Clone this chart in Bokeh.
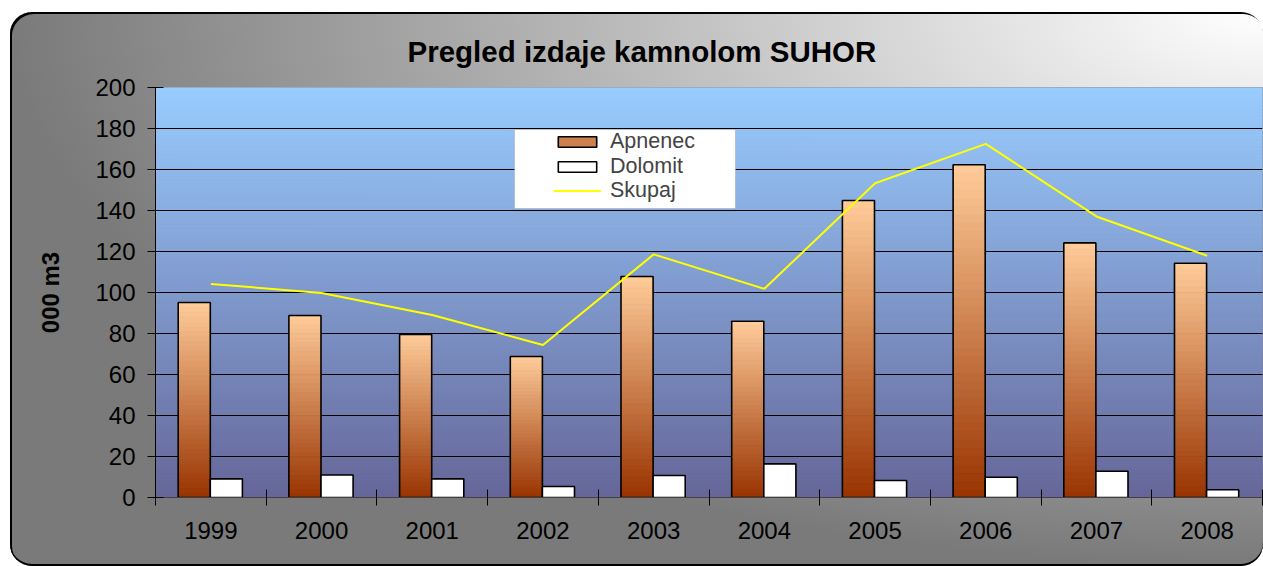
import numpy as np
from bokeh.plotting import figure
from bokeh.models import FixedTicker, Legend, LegendItem, BoxAnnotation, Range1d
from bokeh.embed import file_html
from bokeh.resources import INLINE

# ---- data (000 m3) ----
years = ["1999", "2000", "2001", "2002", "2003", "2004", "2005", "2006", "2007", "2008"]
apnenec = [95.1, 88.8, 79.5, 68.8, 107.8, 86.0, 144.9, 162.3, 124.2, 114.3]
dolomit = [9.1, 11.0, 9.1, 5.4, 10.7, 16.4, 8.3, 9.9, 12.8, 3.8]
skupaj = [104.2, 99.8, 89.0, 74.4, 118.6, 101.8, 153.3, 172.5, 137.1, 117.9]
y_ticks = [0, 20, 40, 60, 80, 100, 120, 140, 160, 180, 200]

FONT = "Liberation Sans"
n = len(years)
centers = np.arange(n) + 0.5


def lerp_hex(c0, c1, t):
    c0 = np.array([int(c0[i:i + 2], 16) for i in (1, 3, 5)], dtype=float)
    c1 = np.array([int(c1[i:i + 2], 16) for i in (1, 3, 5)], dtype=float)
    c = c0 + (c1 - c0) * t
    return "#%02x%02x%02x" % tuple(int(round(v)) for v in c)


p = figure(width=1253, height=554, output_backend="svg", toolbar_location=None,
           x_range=Range1d(0, n), y_range=Range1d(0, 200),
           min_border_left=145, min_border_right=1, min_border_top=75, min_border_bottom=69)
p.margin = (12, 0, 0, 10)
p.border_fill_color = None
p.background_fill_color = None
p.outline_line_color = "#808080"
p.outline_line_width = 1
p.styles = {
    "background": "radial-gradient(1253px 554px at 100% 0%, #ffffff 0%, #7a7a7a 100%)",
    "border-radius": "22px 22px 22px 22px",
    "box-shadow": "inset 2px 2px 0 0 #000000, inset 0 -2px 0 0 #000000",
}

# plot-area gradient background
nb = 120
edges = np.linspace(0, 200, nb + 1)
bg_cols = [lerp_hex("#666699", "#99ccff", (edges[i] + edges[i + 1]) / 400) for i in range(nb)]
p.quad(left=0, right=n, bottom=edges[:-1], top=edges[1:], fill_color=bg_cols,
       line_color=bg_cols, line_width=1, level="image")

# Apnenec bars with vertical gradient (middle slice first so it can serve the legend)
ns = 40
k_order = [ns // 2] + [k for k in range(ns) if k != ns // 2]
bx, bb, bt, bc = [], [], [], []
for k in k_order:
    for i, v in enumerate(apnenec):
        bx.append(centers[i] - 0.15)
        bb.append(v * k / ns)
        bt.append(v * (k + 1) / ns)
        bc.append(lerp_hex("#993300", "#ffcc99", (k + 0.5) / ns))
apn_fill = p.vbar(x=bx, bottom=bb, top=bt, width=0.29, fill_color=bc, line_color=bc, line_width=0.6)
apn_line = p.vbar(x=centers - 0.15, top=apnenec, width=0.29, fill_color=None,
                  line_color="black", line_width=1.6)

dol = p.vbar(x=centers + 0.14, top=dolomit, width=0.29, fill_color="white",
             line_color="black", line_width=1.6)
sk = p.line(x=centers, y=skupaj, line_color="#ffff00", line_width=2)

# axes
p.xaxis.ticker = FixedTicker(ticks=list(centers), minor_ticks=list(range(n + 1)))
p.xaxis.major_label_overrides = {float(c): y for c, y in zip(centers, years)}
p.xaxis.major_tick_in = 0
p.xaxis.major_tick_out = 0
p.xaxis.minor_tick_in = 8
p.xaxis.minor_tick_out = 8
p.xaxis.minor_tick_line_color = "black"
p.xaxis.axis_line_color = "#404040"
p.xaxis.major_label_standoff = 16

p.yaxis.ticker = FixedTicker(ticks=y_ticks)
p.yaxis.major_tick_in = 8
p.yaxis.major_tick_out = 8
p.yaxis.major_tick_line_color = "black"
p.yaxis.axis_line_color = "black"
p.yaxis.major_label_standoff = 12
p.yaxis.axis_label = "000 m3"
p.yaxis.axis_label_text_font_style = "bold"
p.yaxis.axis_label_standoff = 28

for ax in (p.xaxis, p.yaxis):
    ax.major_label_text_font = FONT
    ax.major_label_text_font_size = "24px"
    ax.major_label_text_color = "black"
    ax.axis_label_text_font = FONT
    ax.axis_label_text_font_size = "24px"
    ax.axis_label_text_color = "black"

p.xgrid.visible = False
p.ygrid.ticker = FixedTicker(ticks=y_ticks[1:-1])
p.ygrid.grid_line_color = "black"
p.ygrid.grid_line_width = 1

# title
p.title.text = "Pregled izdaje kamnolom SUHOR"
p.title.text_font = FONT
p.title.text_font_size = "29.5px"
p.title.text_font_style = "bold"
p.title.text_color = "black"
p.title.align = "left"
p.title.offset = 252
p.title.standoff = 39

# legend box + one legend per row (for tight row spacing)
box = BoxAnnotation(left=504, right=725, top=117, bottom=196,
                    left_units="canvas", right_units="canvas",
                    top_units="canvas", bottom_units="canvas",
                    fill_color="white", fill_alpha=1.0,
                    line_color="#808080", line_width=1, level="annotation")
p.add_layout(box)

legend_rows = [
    (LegendItem(label="Apnenec", renderers=[apn_fill, apn_line], index=0), 343),
    (LegendItem(label="Dolomit", renderers=[dol]), 318),
    (LegendItem(label="Skupaj", renderers=[sk]), 294),
]
for item, ybot in legend_rows:
    lg = Legend(items=[item], location=(398, ybot), padding=0, margin=0, spacing=0,
                glyph_width=48, glyph_height=13, label_standoff=9, label_height=20,
                label_text_font=FONT, label_text_font_size="21.5px",
                background_fill_alpha=0, border_line_color=None)
    p.add_layout(lg)

open("out.html", "w").write(file_html(p, INLINE))
